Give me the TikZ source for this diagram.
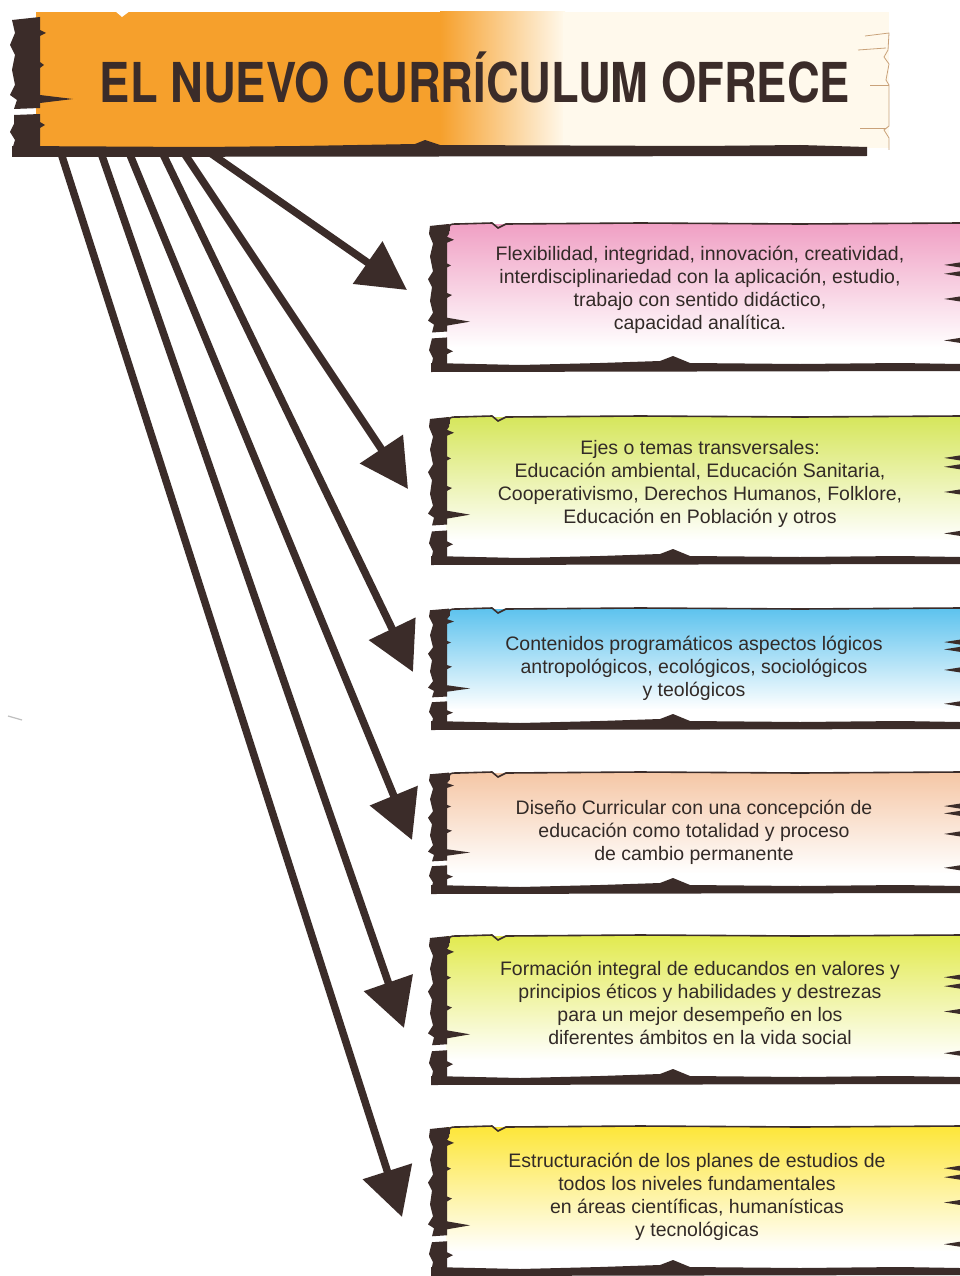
\documentclass[tikz,border=0pt]{standalone}
\usepackage{fontspec}
\setmainfont{Liberation Sans}
\newfontfamily\titlefont{TeX Gyre Heros}
\usetikzlibrary{arrows.meta}
\definecolor{ink}{HTML}{3B2C29}
\definecolor{txtc}{HTML}{322A27}
\definecolor{orng}{HTML}{F6A02C}
\definecolor{cream}{HTML}{FFF9EC}
\definecolor{edge}{HTML}{C9A27A}
\definecolor{cpink}{HTML}{F0A0C4}
\definecolor{cgreen}{HTML}{D6E65C}
\definecolor{cblue}{HTML}{5EC3EE}
\definecolor{cpeach}{HTML}{F5C7A6}
\definecolor{cgreenb}{HTML}{E2EA50}
\definecolor{cyellow}{HTML}{FDE63A}
\tikzset{
  arr/.style={draw=ink, line width=7.5pt, -{Triangle[length=48pt,width=50pt]}},
  bodytext/.style={font=\fontsize{19.5}{23}\selectfont, align=center, text=txtc, inner sep=0pt},
}
\newcommand\tornbox[3]{%
\pgfmathsetmacro\hh{#2-#1}%
\begin{scope}[shift={(0,#1)}]
 \shade[top color=#3, middle color=#3!60, bottom color=white] (446,2) rectangle (960,{0.85*\hh});
 \fill[white] (446,{0.85*\hh-0.5}) rectangle (960,{\hh-3});
 \draw[ink, line width=1.6pt] (449,9) .. controls (449,2) .. (458,2) -- (492,1) -- (498,6) -- (506,2) -- (640,1) -- (800,2) -- (960,1);
 \begin{scope}[yscale=\hh/150]
  \fill[ink] (430,4) -- (449,2) -- (449,12) -- (447,15) -- (454,18) -- (447,21) -- (447,42) -- (451,44) -- (447,46) -- (447,72) -- (452,74) -- (447,77) -- (447,97) -- (470,101) -- (447,105) -- (447,111) -- (432,112) -- (434,104) -- (428,100) -- (433,92) -- (430,80) -- (432,66) -- (428,58) -- (433,50) -- (430,35) -- (433,22) -- (429,12) -- cycle;
  \fill[ink] (432,118) -- (447,117) -- (447,128) -- (453,131) -- (447,134) -- (447,146) -- (431,148) -- (433,138) -- (429,130) -- cycle;
 \end{scope}
 \fill[ink] (431,{\hh-7}) -- (520,{\hh-5}) -- (600,{\hh-7}) -- (660,{\hh-9}) -- (673,{\hh-14}) -- (690,{\hh-7}) -- (800,{\hh-6}) -- (900,{\hh-7}) -- (960,{\hh-6}) -- (960,{\hh+1}) -- (431,{\hh+2}) -- cycle;
 \foreach \fr in {0.29,0.35,0.52,0.80}
   \fill[ink] (960,{\fr*\hh-2.5}) -- (944,{\fr*\hh}) -- (960,{\fr*\hh+2.5}) -- cycle;
\end{scope}}
\begin{document}
\begin{tikzpicture}[x=1pt,y=-1pt]
\useasboundingbox (0,0) rectangle (960,1276);
\fill[white] (0,0) rectangle (960,1276);

% stray scan mark
\draw[gray!50, line width=1.2pt] (8,716) -- (22,720);

% arrows
\coordinate (s1) at (206,150);
\coordinate (s2) at (182,150);
\coordinate (s3) at (161,150);
\coordinate (s4) at (128,150);
\coordinate (s5) at (100,150);
\coordinate (s6) at (60,150);
\coordinate (t1) at (407,290);
\coordinate (t2) at (408,489);
\coordinate (t3) at (413,672);
\coordinate (t4) at (412,840);
\coordinate (t5) at (404,1028);
\coordinate (t6) at (402,1217);
\draw[arr] (s1) -- (t1);
\draw[arr] (s2) -- (t2);
\draw[arr] (s3) -- (t3);
\draw[arr] (s4) -- (t4);
\draw[arr] (s5) -- (t5);
\draw[arr] (s6) -- (t6);

% title box
\fill[orng] (36,12) rectangle (442,148);
\shade[left color=orng, right color=cream] (440,12) rectangle (565,148);
\fill[cream] (563,12) rectangle (889,148);
\fill[white] (115,11) -- (122,17) -- (130,11) -- cycle;
\fill[ink] (12,20) -- (40,17) -- (40,30) -- (46,33) -- (40,36) -- (40,62) -- (44,65) -- (40,68) -- (40,95) -- (73,99) -- (40,103) -- (40,108) -- (14,109) -- (17,100) -- (10,95) -- (15,85) -- (12,70) -- (15,55) -- (10,45) -- (15,33) -- cycle;
\fill[ink] (14,115) -- (40,114) -- (40,122) -- (45,125) -- (40,128) -- (40,148) -- (12,150) -- (15,140) -- (10,132) -- (14,124) -- cycle;
\fill[ink] (12,146) -- (200,147) -- (300,146) -- (415,144) -- (425,140) -- (440,145) -- (700,146) -- (800,145) -- (867,147) -- (867,156) -- (12,157) -- cycle;
\draw[edge, line width=0.8pt] (865,36) -- (889,33) -- (888,50) -- (884,57) -- (889,64) -- (886,80) -- (889,85) -- (889,126) -- (884,130) -- (889,138) -- (889,150);
\draw[edge, line width=0.8pt] (858,50) -- (886,48);
\draw[edge, line width=0.8pt] (870,85) -- (889,85);
\draw[edge, line width=0.8pt] (860,128) -- (886,128);
\node[font=\titlefont\bfseries\fontsize{55}{55}\selectfont, text=ink, inner sep=0pt, anchor=base] (title) at (475,103) {\scalebox{0.824}[1]{EL NUEVO CURRÍCULUM OFRECE}};

% boxes
\tornbox{222}{370}{cpink}
\tornbox{415}{563}{cgreen}
\tornbox{607}{728}{cblue}
\tornbox{771}{892}{cpeach}
\tornbox{934}{1083}{cgreenb}
\tornbox{1125}{1274}{cyellow}

\node[bodytext] (b1) at (700,290) {Flexibilidad, integridad, innovación, creatividad,\\interdisciplinariedad con la aplicación, estudio,\\trabajo con sentido didáctico,\\capacidad analítica.};
\node[bodytext] (b2) at (700,484) {Ejes o temas transversales:\\Educación ambiental, Educación Sanitaria,\\Cooperativismo, Derechos Humanos, Folklore,\\Educación en Población y otros};
\node[bodytext] (b3) at (694,668) {Contenidos programáticos aspectos lógicos\\antropológicos, ecológicos, sociológicos\\y teológicos};
\node[bodytext] (b4) at (694,832) {Diseño Curricular con una concepción de\\educación como totalidad y proceso\\de cambio permanente};
\node[bodytext] (b5) at (700,1003) {Formación integral de educandos en valores y\\principios éticos y habilidades y destrezas\\para un mejor desempeño en los\\diferentes ámbitos en la vida social};
\node[bodytext] (b6) at (697,1197) {Estructuración de los planes de estudios de\\todos los niveles fundamentales\\en áreas científicas, humanísticas\\y tecnológicas};
\end{tikzpicture}
\end{document}
